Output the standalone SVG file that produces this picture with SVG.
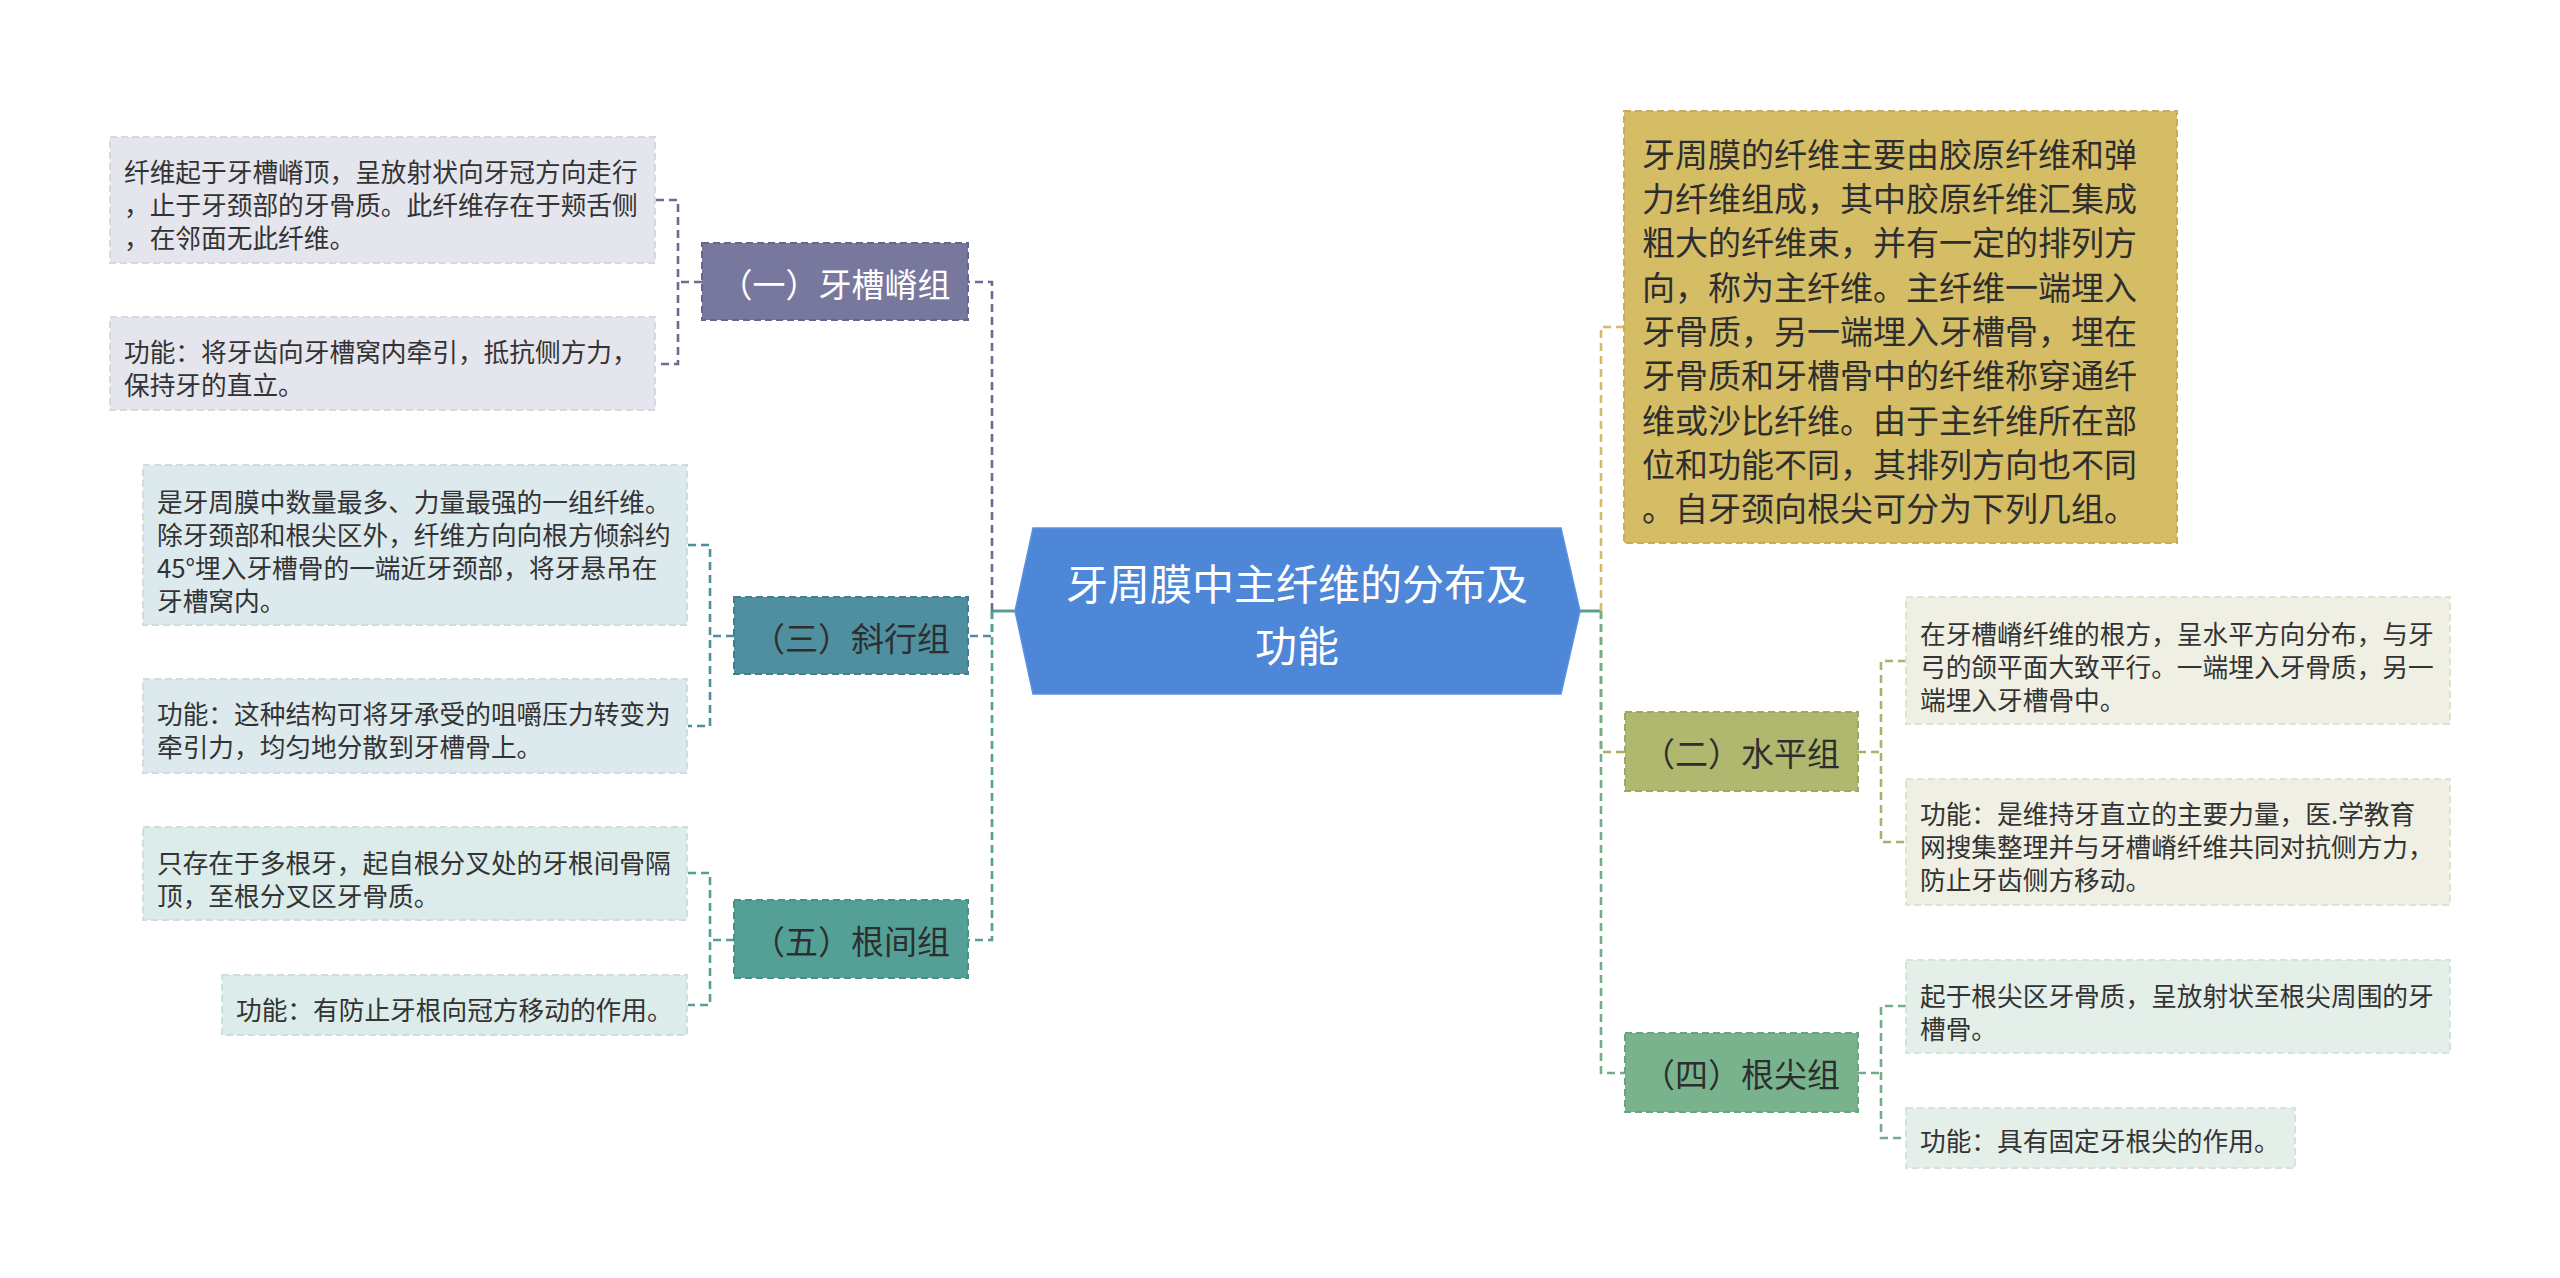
<svg xmlns="http://www.w3.org/2000/svg" width="2560" height="1278" viewBox="0 0 2560 1278">
<style>
text{font-family:"Noto Sans CJK SC","Noto Sans",sans-serif;dominant-baseline:central}
.leaf{font-size:25.7px;fill:#333}
.grp{font-size:33px;fill:#2e2e2e;text-anchor:middle}
.c{fill:none;stroke-width:2.6;stroke-dasharray:8 5}
.bx{stroke-width:2;stroke-dasharray:7 4}
</style>
<rect width="2560" height="1278" fill="#ffffff"/>
<g id="connectors">
<line x1="992" y1="611" x2="1016" y2="611" stroke="#56a08f" stroke-width="3"/>
<line x1="1579" y1="611" x2="1602" y2="611" stroke="#56a08f" stroke-width="3"/>
<path class="c" stroke="#6c6c92" d="M992,611 V282 H968"/>
<path class="c" stroke="#4d8e9f" d="M992,611 V636 H968"/>
<path class="c" stroke="#55a096" d="M992,611 V940 H968"/>
<path class="c" stroke="#d3bb6a" d="M1601,611 V327 H1624"/>
<path class="c" stroke="#a9b16a" d="M1601,611 V752 H1625"/>
<path class="c" stroke="#72ac88" d="M1601,611 V1073 H1625"/>
<path class="c" stroke="#6c6c92" d="M702,282 H678 M656,200 H678 V364 H656"/>
<path class="c" stroke="#4d8e9f" d="M734,636 H710 M688,545 H710 V726 H688"/>
<path class="c" stroke="#55a096" d="M734,940 H710 M688,873 H710 V1005 H688"/>
<path class="c" stroke="#a9b16a" d="M1858,752 H1881 M1906,661 H1881 V842 H1906"/>
<path class="c" stroke="#72ac88" d="M1858,1073 H1881 M1906,1006 H1881 V1138 H1906"/>
</g>
<g id="center">
<polygon points="1015,611 1033,528 1561,528 1580,611 1561,694 1033,694" fill="#4e86d8" stroke="#5b92df" stroke-width="1.5"/>
<text x="1297" y="581" font-size="42" fill="#ffffff" text-anchor="middle">牙周膜中主纤维的分布及</text>
<text x="1297" y="643" font-size="42" fill="#ffffff" text-anchor="middle">功能</text>
</g>
<g id="n1">
<rect class="bx" x="702" y="243" width="266" height="77" fill="#78789f" stroke="#66668c"/>
<text class="grp" x="835" y="283" style="fill:#ffffff">（一）牙槽嵴组</text>
</g>
<g id="n1a">
<rect class="bx" x="110" y="137" width="545" height="126" fill="#e5e5ed" stroke="#d8d8e2"/>
<text class="leaf" x="124" y="170">纤维起于牙槽嵴顶，呈放射状向牙冠方向走行</text>
<text class="leaf" x="124" y="203">，止于牙颈部的牙骨质。此纤维存在于颊舌侧</text>
<text class="leaf" x="124" y="236">，在邻面无此纤维。</text>
</g>
<g id="n1b">
<rect class="bx" x="110" y="317" width="545" height="93" fill="#e5e5ed" stroke="#d8d8e2"/>
<text class="leaf" x="124" y="350">功能：将牙齿向牙槽窝内牵引，抵抗侧方力，</text>
<text class="leaf" x="124" y="383">保持牙的直立。</text>
</g>
<g id="n3">
<rect class="bx" x="734" y="597" width="234" height="77" fill="#4f8fa0" stroke="#437f8f"/>
<text class="grp" x="851" y="637">（三）斜行组</text>
</g>
<g id="n3a">
<rect class="bx" x="143" y="465" width="544" height="160" fill="#dce9ed" stroke="#cddde2"/>
<text class="leaf" x="157" y="500">是牙周膜中数量最多、力量最强的一组纤维。</text>
<text class="leaf" x="157" y="533">除牙颈部和根尖区外，纤维方向向根方倾斜约</text>
<text class="leaf" x="157" y="566">45°埋入牙槽骨的一端近牙颈部，将牙悬吊在</text>
<text class="leaf" x="157" y="599">牙槽窝内。</text>
</g>
<g id="n3b">
<rect class="bx" x="143" y="679" width="544" height="94" fill="#dce9ed" stroke="#cddde2"/>
<text class="leaf" x="157" y="712">功能：这种结构可将牙承受的咀嚼压力转变为</text>
<text class="leaf" x="157" y="745">牵引力，均匀地分散到牙槽骨上。</text>
</g>
<g id="n5">
<rect class="bx" x="734" y="900" width="234" height="78" fill="#55a096" stroke="#4a9086"/>
<text class="grp" x="851" y="940">（五）根间组</text>
</g>
<g id="n5a">
<rect class="bx" x="143" y="827" width="544" height="93" fill="#dcecea" stroke="#cde0dd"/>
<text class="leaf" x="157" y="861">只存在于多根牙，起自根分叉处的牙根间骨隔</text>
<text class="leaf" x="157" y="894">顶，至根分叉区牙骨质。</text>
</g>
<g id="n5b">
<rect class="bx" x="222" y="975" width="465" height="60" fill="#dcecea" stroke="#cde0dd"/>
<text class="leaf" x="236" y="1008">功能：有防止牙根向冠方移动的作用。</text>
</g>
<g id="intro">
<rect class="bx" x="1624" y="111" width="553" height="432" fill="#d5bd66" stroke="#c6ad58"/>
<g font-size="33" fill="#2e2e2e">
<text x="1642" y="153">牙周膜的纤维主要由胶原纤维和弹</text>
<text x="1642" y="197">力纤维组成，其中胶原纤维汇集成</text>
<text x="1642" y="241">粗大的纤维束，并有一定的排列方</text>
<text x="1642" y="286">向，称为主纤维。主纤维一端埋入</text>
<text x="1642" y="330">牙骨质，另一端埋入牙槽骨，埋在</text>
<text x="1642" y="374">牙骨质和牙槽骨中的纤维称穿通纤</text>
<text x="1642" y="419">维或沙比纤维。由于主纤维所在部</text>
<text x="1642" y="463">位和功能不同，其排列方向也不同</text>
<text x="1642" y="507">。自牙颈向根尖可分为下列几组。</text>
</g>
</g>
<g id="n2">
<rect class="bx" x="1625" y="712" width="233" height="79" fill="#b0b76e" stroke="#9fa660"/>
<text class="grp" x="1741" y="752">（二）水平组</text>
</g>
<g id="n2a">
<rect class="bx" x="1906" y="597" width="544" height="127" fill="#efefe3" stroke="#e2e2d2"/>
<text class="leaf" x="1920" y="632">在牙槽嵴纤维的根方，呈水平方向分布，与牙</text>
<text class="leaf" x="1920" y="665">弓的颌平面大致平行。一端埋入牙骨质，另一</text>
<text class="leaf" x="1920" y="698">端埋入牙槽骨中。</text>
</g>
<g id="n2b">
<rect class="bx" x="1906" y="779" width="544" height="126" fill="#efefe3" stroke="#e2e2d2"/>
<text class="leaf" x="1920" y="812">功能：是维持牙直立的主要力量，医.学教育</text>
<text class="leaf" x="1920" y="845">网搜集整理并与牙槽嵴纤维共同对抗侧方力，</text>
<text class="leaf" x="1920" y="878">防止牙齿侧方移动。</text>
</g>
<g id="n4">
<rect class="bx" x="1625" y="1033" width="233" height="79" fill="#79b38e" stroke="#6aa47f"/>
<text class="grp" x="1741" y="1073">（四）根尖组</text>
</g>
<g id="n4a">
<rect class="bx" x="1906" y="960" width="544" height="93" fill="#e3efe8" stroke="#d3e4da"/>
<text class="leaf" x="1920" y="994">起于根尖区牙骨质，呈放射状至根尖周围的牙</text>
<text class="leaf" x="1920" y="1027">槽骨。</text>
</g>
<g id="n4b">
<rect class="bx" x="1906" y="1108" width="389" height="60" fill="#e3efe8" stroke="#d3e4da"/>
<text class="leaf" x="1920" y="1139">功能：具有固定牙根尖的作用。</text>
</g>
</svg>
